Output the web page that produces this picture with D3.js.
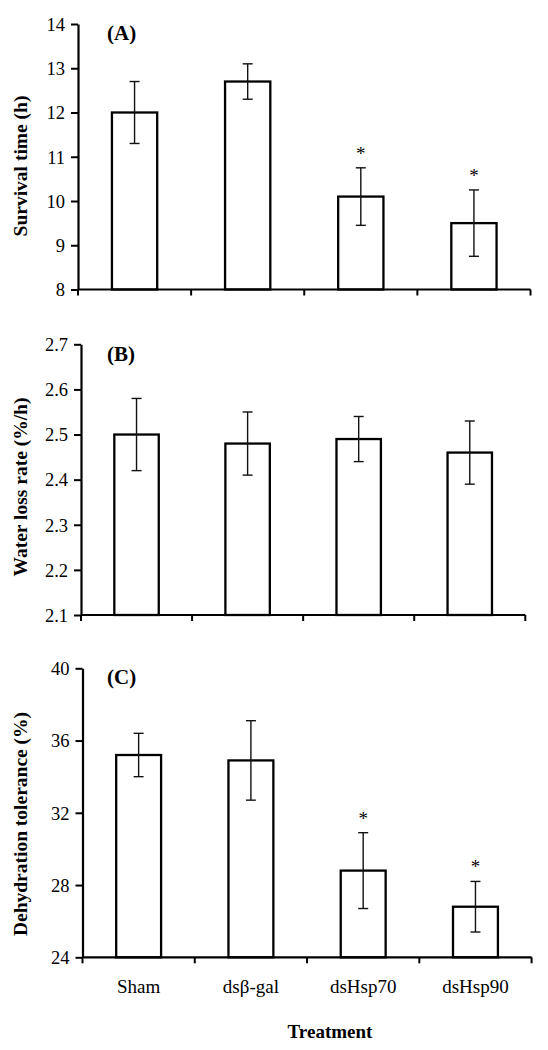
<!DOCTYPE html>
<html>
<head>
<meta charset="utf-8">
<script src="https://cdn.jsdelivr.net/npm/d3@7"></script>
<style>
  html, body { margin: 0; padding: 0; background: #fff; }
  svg { display: block; }
  text { font-family: "Times New Roman", "Liberation Serif", "DejaVu Serif", serif; fill: #000; }
</style>
</head>
<body>
<svg id="chart" width="548" height="1050"></svg>
<script>
// ---- Data ----
const categories = ["Sham", "dsβ-gal", "dsHsp70", "dsHsp90"];

const survivalMean = [12.0, 12.7, 10.1, 9.5];
const survivalErr  = [0.7, 0.4, 0.65, 0.75];
const survivalSig  = [false, false, true, true];
const survivalTicks = [8, 9, 10, 11, 12, 13, 14];

const waterMean = [2.50, 2.48, 2.49, 2.46];
const waterErr  = [0.08, 0.07, 0.05, 0.07];
const waterSig  = [false, false, false, false];
const waterTicks = [2.1, 2.2, 2.3, 2.4, 2.5, 2.6, 2.7];

const toleranceMean = [35.2, 34.9, 28.8, 26.8];
const toleranceErr  = [1.2, 2.2, 2.1, 1.4];
const toleranceSig  = [false, false, true, true];
const toleranceTicks = [24, 28, 32, 36, 40];

const panelLabels = ["(A)", "(B)", "(C)"];
const yTitles = ["Survival time (h)", "Water loss rate (%/h)", "Dehydration tolerance (%)"];
const xTitle = "Treatment";

// ---- Layout (positions only) ----
const panels = [
  { label: panelLabels[0], title: yTitles[0], mean: survivalMean, err: survivalErr, sig: survivalSig,
    ticks: survivalTicks, fmt: d3.format("d"),
    x0: 78, x1: 530.5, yTop: 24, yBot: 289.5, titleY: 166, labelY: 40 },
  { label: panelLabels[1], title: yTitles[1], mean: waterMean, err: waterErr, sig: waterSig,
    ticks: waterTicks, fmt: d3.format(".1f"),
    x0: 81, x1: 525.3, yTop: 344.3, yBot: 615, titleY: 487, labelY: 361 },
  { label: panelLabels[2], title: yTitles[2], mean: toleranceMean, err: toleranceErr, sig: toleranceSig,
    ticks: toleranceTicks, fmt: d3.format("d"),
    x0: 82.5, x1: 531.6, yTop: 668.3, yBot: 957.3, titleY: 824, labelY: 684, showCats: true }
];

const svg = d3.select("#chart");
svg.append("rect").attr("width", 548).attr("height", 1050).attr("fill", "#fff");

panels.forEach((p) => {
  const g = svg.append("g");
  const data = categories.map((c, i) => ({ cat: c, mean: p.mean[i], err: p.err[i], sig: p.sig[i] }));

  const x = d3.scaleBand().domain(categories).range([p.x0, p.x1])
    .paddingInner(0.6).paddingOuter(0.3);
  const y = d3.scaleLinear().domain(d3.extent(p.ticks)).range([p.yBot, p.yTop]);

  // bars
  g.selectAll("rect.bar").data(data).join("rect")
    .attr("class", "bar")
    .attr("x", d => x(d.cat))
    .attr("y", d => y(d.mean))
    .attr("width", x.bandwidth())
    .attr("height", d => y.domain()[0] === undefined ? 0 : y(y.domain()[0]) - y(d.mean))
    .attr("fill", "#fff")
    .attr("stroke", "#000")
    .attr("stroke-width", 2.3);

  // error bars
  const cx = d => x(d.cat) + x.bandwidth() / 2;
  const eg = g.selectAll("g.err").data(data).join("g").attr("class", "err")
    .attr("stroke", "#111").attr("stroke-width", 1.4);
  eg.append("line").attr("x1", cx).attr("x2", cx)
    .attr("y1", d => y(d.mean + d.err)).attr("y2", d => y(d.mean - d.err));
  eg.append("line").attr("x1", d => cx(d) - 5).attr("x2", d => cx(d) + 5)
    .attr("y1", d => y(d.mean + d.err)).attr("y2", d => y(d.mean + d.err));
  eg.append("line").attr("x1", d => cx(d) - 5).attr("x2", d => cx(d) + 5)
    .attr("y1", d => y(d.mean - d.err)).attr("y2", d => y(d.mean - d.err));

  // significance asterisks
  g.selectAll("text.sig").data(data.filter(d => d.sig)).join("text")
    .attr("class", "sig")
    .attr("x", cx)
    .attr("y", d => y(d.mean + d.err) - 8)
    .attr("text-anchor", "middle")
    .attr("font-size", 19)
    .text("*");

  // y axis
  const yAxis = d3.axisLeft(y).tickValues(p.ticks).tickFormat(p.fmt)
    .tickSize(7).tickSizeOuter(0).tickPadding(6);
  const ya = g.append("g").attr("transform", `translate(${p.x0},0)`).call(yAxis);
  ya.select(".domain").attr("stroke", "#000").attr("stroke-width", 2.2);
  ya.selectAll(".tick line").attr("stroke", "#000").attr("stroke-width", 2);
  ya.selectAll(".tick text").attr("font-size", 18.5)
    .attr("font-family", "'Times New Roman', 'Liberation Serif', serif").attr("fill", "#000")
    .attr("dy", "0.34em");

  // x axis line and boundary ticks
  g.append("line").attr("x1", p.x0).attr("x2", p.x1)
    .attr("y1", p.yBot).attr("y2", p.yBot)
    .attr("stroke", "#000").attr("stroke-width", 2.2);
  const bounds = d3.range(categories.length + 1).map(i => p.x0 + i * x.step());
  g.selectAll("line.xt").data(bounds).join("line").attr("class", "xt")
    .attr("x1", d => d).attr("x2", d => d)
    .attr("y1", p.yBot).attr("y2", p.yBot + 6)
    .attr("stroke", "#000").attr("stroke-width", 2);

  // category labels
  if (p.showCats) {
    g.selectAll("text.cat").data(categories).join("text").attr("class", "cat")
      .attr("x", d => x(d) + x.bandwidth() / 2)
      .attr("y", 993)
      .attr("text-anchor", "middle")
      .attr("font-size", 19)
      .text(d => d);
  }

  // panel label
  g.append("text").attr("x", 107).attr("y", p.labelY)
    .attr("font-size", 21).attr("font-weight", "bold").text(p.label);

  // y title
  g.append("text").attr("transform", `translate(27,${p.titleY}) rotate(-90)`)
    .attr("text-anchor", "middle").attr("font-size", 19.5).attr("font-weight", "bold")
    .text(p.title);
});

// x title
svg.append("text").attr("x", 330).attr("y", 1038)
  .attr("text-anchor", "middle").attr("font-size", 19).attr("font-weight", "bold")
  .text(xTitle);
</script>
</body>
</html>
